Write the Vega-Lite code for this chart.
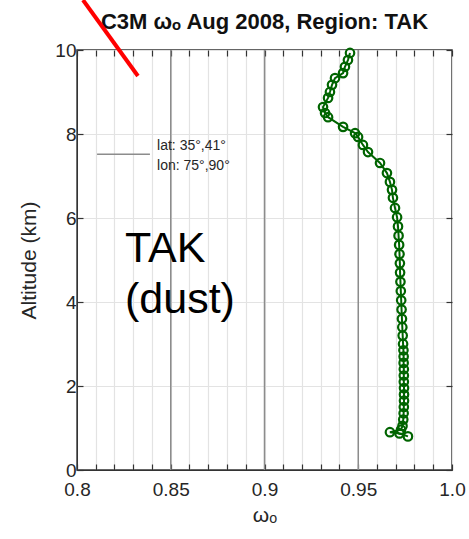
{
  "$schema": "https://vega.github.io/schema/vega-lite/v6.json",
  "width": 375,
  "height": 420,
  "autosize": "none",
  "padding": {"left": 77, "top": 50, "right": 17, "bottom": 69},
  "background": "white",
  "config": {
    "view": {"stroke": "#333333", "strokeWidth": 1.5},
    "axis": {"labelFont": "Liberation Sans", "labelFontSize": 19, "labelColor": "#262626", "titleFont": "Liberation Sans", "titleFontSize": 21, "titleFontWeight": "normal", "titleColor": "#262626", "domainColor": "#333333", "tickColor": "#333333", "tickSize": -6, "tickWidth": 1.2, "labelOverlap": false, "labelFlush": false, "gridColor": "#e3e3e3", "gridWidth": 1.2}
  },
  "datasets": {
    "profile": [
      {"alt": 9.93, "w": 0.9456}, {"alt": 9.76, "w": 0.9445}, {"alt": 9.60, "w": 0.9429}, {"alt": 9.45, "w": 0.9419},
      {"alt": 9.33, "w": 0.9376}, {"alt": 9.17, "w": 0.9360}, {"alt": 9.00, "w": 0.9349}, {"alt": 8.86, "w": 0.9339},
      {"alt": 8.64, "w": 0.9312}, {"alt": 8.50, "w": 0.9323}, {"alt": 8.40, "w": 0.9339}, {"alt": 8.17, "w": 0.9419},
      {"alt": 8.02, "w": 0.9483}, {"alt": 7.93, "w": 0.9499}, {"alt": 7.74, "w": 0.9525}, {"alt": 7.57, "w": 0.9552},
      {"alt": 7.31, "w": 0.9616}, {"alt": 7.07, "w": 0.9653}, {"alt": 6.86, "w": 0.9669}, {"alt": 6.67, "w": 0.9680},
      {"alt": 6.48, "w": 0.9685}, {"alt": 6.24, "w": 0.9696}, {"alt": 6.02, "w": 0.9707}, {"alt": 5.80, "w": 0.9712},
      {"alt": 5.58, "w": 0.9715}, {"alt": 5.36, "w": 0.9718}, {"alt": 5.14, "w": 0.9720}, {"alt": 4.92, "w": 0.9722},
      {"alt": 4.70, "w": 0.9723}, {"alt": 4.48, "w": 0.9725}, {"alt": 4.26, "w": 0.9727}, {"alt": 4.04, "w": 0.9729},
      {"alt": 3.82, "w": 0.9731}, {"alt": 3.60, "w": 0.9733}, {"alt": 3.40, "w": 0.9735}, {"alt": 3.20, "w": 0.9737},
      {"alt": 3.00, "w": 0.9739}, {"alt": 2.85, "w": 0.9741}, {"alt": 2.70, "w": 0.9742}, {"alt": 2.55, "w": 0.9742},
      {"alt": 2.40, "w": 0.9743}, {"alt": 2.25, "w": 0.9743}, {"alt": 2.10, "w": 0.9743}, {"alt": 1.95, "w": 0.9744},
      {"alt": 1.80, "w": 0.9744}, {"alt": 1.65, "w": 0.9744}, {"alt": 1.50, "w": 0.9743}, {"alt": 1.35, "w": 0.9742},
      {"alt": 1.20, "w": 0.9740}, {"alt": 1.05, "w": 0.9736}, {"alt": 0.96, "w": 0.9728}, {"alt": 0.90, "w": 0.9669},
      {"alt": 0.87, "w": 0.9720}, {"alt": 0.80, "w": 0.9765}
    ],
    "majors": [{"w": 0.85}, {"w": 0.9}, {"w": 0.95}],
    "legendLine": [{"w": 0.8107, "w2": 0.8389, "alt": 7.52}],
    "legendText": [{"w": 0.8427, "alt": 7.72, "label": "lat: 35°,41°"}, {"w": 0.8427, "alt": 7.25, "label": "lon: 75°,90°"}],
    "bigText": [{"w": 0.8256, "alt": 4.95, "label": "TAK"}, {"w": 0.8256, "alt": 3.74, "label": "(dust)"}],
    "titleText": [{"w": 0.9, "alt": 10.5, "label": "C3M ωₒ Aug 2008, Region: TAK"}],
    "redLine": [{"w": 0.8032, "alt": 11.19, "w2": 0.8325, "alt2": 9.38}]
  },
  "resolve": {"axis": {"x": "independent", "y": "independent"}},
  "layer": [
    {
      "data": {"name": "majors"},
      "mark": {"type": "rule", "color": "#8c8c8c", "strokeWidth": 1.5},
      "encoding": {
        "x": {"field": "w", "type": "quantitative", "scale": {"domain": [0.8, 1.0], "nice": false, "zero": false},
          "axis": {"orient": "bottom", "values": [0.8, 0.81, 0.82, 0.83, 0.84, 0.85, 0.86, 0.87, 0.88, 0.89, 0.9, 0.91, 0.92, 0.93, 0.94, 0.95, 0.96, 0.97, 0.98, 0.99, 1.0],
            "labelExpr": "datum.value == 0.8 ? '0.8' : datum.value == 0.85 ? '0.85' : datum.value == 0.9 ? '0.9' : datum.value == 0.95 ? '0.95' : datum.value == 1.0 ? '1.0' : ''",
            "grid": true, "labelPadding": 16, "title": "ωₒ", "titlePadding": 5}}
      }
    },
    {
      "data": {"name": "profile"},
      "mark": {"type": "line", "color": "#006400", "strokeWidth": 2},
      "encoding": {
        "x": {"field": "w", "type": "quantitative", "scale": {"domain": [0.8, 1.0], "nice": false, "zero": false}, "axis": null},
        "y": {"field": "alt", "type": "quantitative", "scale": {"domain": [0, 10], "nice": false, "zero": false},
          "axis": {"orient": "left", "values": [0, 2, 4, 6, 8, 10], "grid": true, "labelPadding": 7, "title": "Altitude (km)", "titlePadding": 15}},
        "order": {"field": "alt", "type": "quantitative"}
      }
    },
    {
      "data": {"name": "profile"},
      "mark": {"type": "point", "shape": "circle", "filled": false, "color": "#006400", "size": 72, "strokeWidth": 2.2, "opacity": 1},
      "encoding": {
        "x": {"field": "w", "type": "quantitative", "scale": {"domain": [0.8, 1.0], "nice": false, "zero": false}, "axis": null},
        "y": {"field": "alt", "type": "quantitative", "scale": {"domain": [0, 10], "nice": false, "zero": false}, "axis": null}
      }
    },
    {
      "data": {"name": "legendLine"},
      "mark": {"type": "rule", "color": "#8c8c8c", "strokeWidth": 1.5},
      "encoding": {
        "x": {"field": "w", "type": "quantitative", "scale": {"domain": [0.8, 1.0], "nice": false, "zero": false},
          "axis": {"orient": "top", "values": [0.8, 0.81, 0.82, 0.83, 0.84, 0.85, 0.86, 0.87, 0.88, 0.89, 0.9, 0.91, 0.92, 0.93, 0.94, 0.95, 0.96, 0.97, 0.98, 0.99, 1.0], "labels": false, "grid": false, "domain": false, "title": null}},
        "x2": {"field": "w2"},
        "y": {"field": "alt", "type": "quantitative", "scale": {"domain": [0, 10], "nice": false, "zero": false},
          "axis": {"orient": "right", "values": [0, 2, 4, 6, 8, 10], "labels": false, "grid": false, "domain": false, "title": null}}
      }
    },
    {
      "data": {"name": "legendText"},
      "mark": {"type": "text", "align": "left", "baseline": "middle", "font": "Liberation Sans", "fontSize": 14, "color": "#262626"},
      "encoding": {
        "x": {"field": "w", "type": "quantitative", "scale": {"domain": [0.8, 1.0], "nice": false, "zero": false}, "axis": null},
        "y": {"field": "alt", "type": "quantitative", "scale": {"domain": [0, 10], "nice": false, "zero": false}, "axis": null},
        "text": {"field": "label"}
      }
    },
    {
      "data": {"name": "bigText"},
      "mark": {"type": "text", "align": "left", "baseline": "alphabetic", "font": "Liberation Sans", "fontSize": 43, "color": "#000000"},
      "encoding": {
        "x": {"field": "w", "type": "quantitative", "scale": {"domain": [0.8, 1.0], "nice": false, "zero": false}, "axis": null},
        "y": {"field": "alt", "type": "quantitative", "scale": {"domain": [0, 10], "nice": false, "zero": false}, "axis": null},
        "text": {"field": "label"}
      }
    },
    {
      "data": {"name": "titleText"},
      "mark": {"type": "text", "align": "center", "baseline": "alphabetic", "font": "Liberation Sans", "fontSize": 22, "fontWeight": "bold", "color": "#111111", "clip": false},
      "encoding": {
        "x": {"field": "w", "type": "quantitative", "scale": {"domain": [0.8, 1.0], "nice": false, "zero": false}, "axis": null},
        "y": {"field": "alt", "type": "quantitative", "scale": {"domain": [0, 10], "nice": false, "zero": false}, "axis": null},
        "text": {"field": "label"}
      }
    },
    {
      "data": {"name": "redLine"},
      "mark": {"type": "rule", "color": "#ff0000", "strokeWidth": 4, "clip": false},
      "encoding": {
        "x": {"field": "w", "type": "quantitative", "scale": {"domain": [0.8, 1.0], "nice": false, "zero": false}, "axis": null},
        "x2": {"field": "w2"},
        "y": {"field": "alt", "type": "quantitative", "scale": {"domain": [0, 10], "nice": false, "zero": false}, "axis": null},
        "y2": {"field": "alt2"}
      }
    }
  ]
}
